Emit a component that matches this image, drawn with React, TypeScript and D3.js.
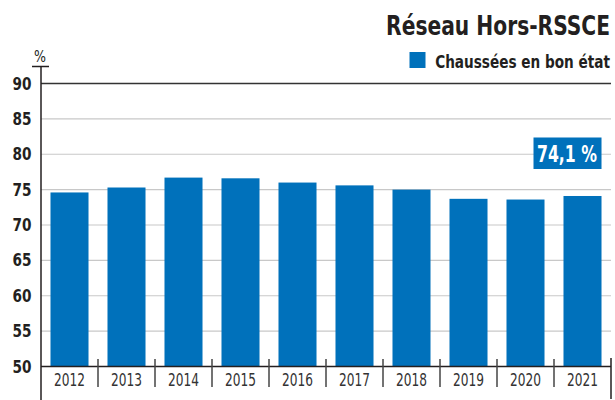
import React, { useLayoutEffect, useRef, useState } from "react";
import * as d3 from "d3";

const years = ["2012", "2013", "2014", "2015", "2016", "2017", "2018", "2019", "2020", "2021"];
const values = [74.6, 75.3, 76.7, 76.6, 76.0, 75.6, 75.0, 73.7, 73.6, 74.1];
const yTicks = [50, 55, 60, 65, 70, 75, 80, 85, 90];
const title = "Réseau Hors-RSSCE";
const legendLabel = "Chaussées en bon état";
const highlightLabel = "74,1 %";

const W = 615;
const H = 400;
const left = 41;
const right = 611;
const top = 83.5;
const bottom = 366.5;
const BLUE = "#0071bb";
const FONT = "'DejaVu Sans Condensed', 'DejaVu Sans', sans-serif";

type FitProps = {
  x: number;
  y: number;
  width: number;
  anchor?: "start" | "middle" | "end";
  fontSize: number;
  bold?: boolean;
  fill: string;
  children: string;
};

function FitText({ x, y, width, anchor = "start", fontSize, bold, fill, children }: FitProps) {
  const ref = useRef<SVGTextElement>(null);
  const [sx, setSx] = useState(1);
  useLayoutEffect(() => {
    if (ref.current) {
      const w = ref.current.getComputedTextLength();
      if (w > 0) setSx(width / w);
    }
  }, [width, children, fontSize]);
  return (
    <g transform={`translate(${x},${y}) scale(${sx},1)`}>
      <text ref={ref} x={0} y={0} textAnchor={anchor} fontSize={fontSize} fontWeight={bold ? "bold" : "normal"} fill={fill}>
        {children}
      </text>
    </g>
  );
}

export default function App() {
  const x = d3.scaleBand<string>().domain(years).range([left, right]).paddingInner(0.333).paddingOuter(0.1665);
  const y = d3.scaleLinear().domain([50, 90]).range([bottom, top]);
  const bounds = d3.scaleBand<string>().domain(years).range([left, right]);
  const last = years[years.length - 1];
  const barRight = (x(last) as number) + x.bandwidth();

  return (
    <svg width={W} height={H} style={{ position: "absolute", left: 0, top: 0, fontFamily: FONT, fontStretch: "condensed" }}>
      <rect x={0} y={0} width={W} height={H} fill="#fff" />
      <FitText x={610} y={35} anchor="end" width={224} fontSize={27} bold fill="#231f20">{title}</FitText>
      <rect x={409.5} y={52} width={16} height={16} fill={BLUE} />
      <FitText x={610} y={68} anchor="end" width={175} fontSize={18} bold fill="#231f20">{legendLabel}</FitText>
      <FitText x={40} y={61.5} anchor="middle" width={12} fontSize={15} fill="#231f20">%</FitText>
      {yTicks.map((t) => (
        <g key={t}>
          {t > 50 && (
            <line x1={left} x2={right} y1={y(t)} y2={y(t)} stroke={t === 90 ? "#333" : "#c8c8c8"} strokeWidth={t === 90 ? 1.5 : 1.2} />
          )}
          <FitText x={31.5} y={y(t) + 6} anchor="end" width={19} fontSize={18.5} bold fill="#231f20">{String(t)}</FitText>
        </g>
      ))}
      {years.map((yr, i) => (
        <rect key={yr} x={x(yr)} y={y(values[i])} width={x.bandwidth()} height={bottom - y(values[i])} fill={BLUE} />
      ))}
      <line x1={left} x2={right} y1={bottom} y2={bottom} stroke="#231f20" strokeWidth={1.5} />
      <line x1={32} x2={49} y1={66.5} y2={66.5} stroke="#231f20" strokeWidth={1.5} />
      <line x1={left} x2={left} y1={66.5} y2={H} stroke="#231f20" strokeWidth={1.5} />
      {years.slice(1).map((yr) => (
        <line key={yr} x1={bounds(yr)} x2={bounds(yr)} y1={359} y2={387} stroke="#444" strokeWidth={1.5} />
      ))}
      <line x1={right} x2={right} y1={358} y2={H - 1} stroke="#231f20" strokeWidth={1.5} />
      {years.map((yr) => (
        <FitText key={yr} x={(bounds(yr) as number) + bounds.bandwidth() / 2} y={386} anchor="middle" width={31} fontSize={17} fill="#333">{yr}</FitText>
      ))}
      <rect x={533.5} y={137.5} width={barRight - 533.5} height={31.5} fill={BLUE} />
      <FitText x={537} y={161.5} width={60} fontSize={23} bold fill="#fff">{highlightLabel}</FitText>
    </svg>
  );
}
